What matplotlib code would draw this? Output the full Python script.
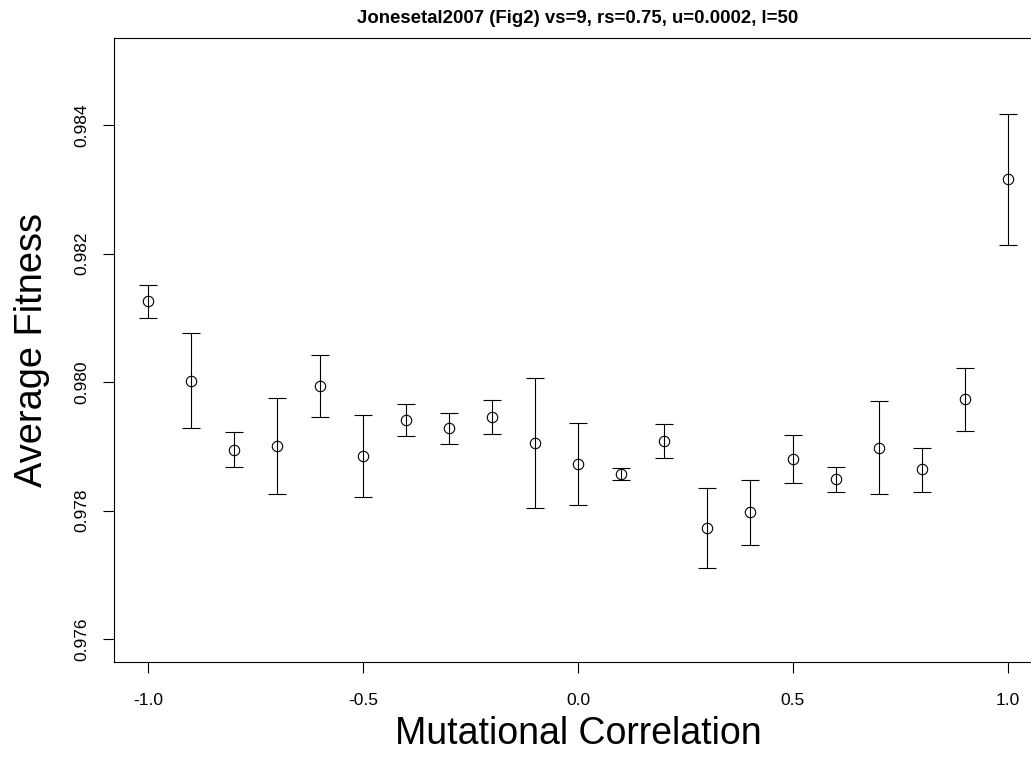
import matplotlib.pyplot as plt
import numpy as np

plt.rcParams['font.family'] = ['Liberation Sans', 'DejaVu Sans']

# mutational correlation (x) and mean fitness with error bar ends
corr = [-1.0, -0.9, -0.8, -0.7, -0.6, -0.5, -0.4, -0.3, -0.2, -0.1, 0.0,
        0.1, 0.2, 0.3, 0.4, 0.5, 0.6, 0.7, 0.8, 0.9, 1.0]
fitness = [0.98126, 0.98002, 0.97895, 0.97900, 0.97994, 0.97885, 0.97941,
           0.97928, 0.97946, 0.97905, 0.97872, 0.97857, 0.97908, 0.97773,
           0.97798, 0.97880, 0.97849, 0.97898, 0.97864, 0.97973, 0.98316]
upper = [0.98151, 0.98076, 0.97922, 0.97975, 0.98043, 0.97948, 0.97966,
         0.97952, 0.97972, 0.98006, 0.97936, 0.97866, 0.97934, 0.97835,
         0.97848, 0.97918, 0.97868, 0.97971, 0.97898, 0.98022, 0.98418]
lower = [0.98100, 0.97929, 0.97868, 0.97826, 0.97946, 0.97821, 0.97916,
         0.97903, 0.97919, 0.97804, 0.97808, 0.97848, 0.97882, 0.97710,
         0.97747, 0.97843, 0.97829, 0.97826, 0.97829, 0.97924, 0.98213]

x = np.array(corr)
y = np.array(fitness)
yerr = [y - np.array(lower), np.array(upper) - y]

fig = plt.figure(figsize=(10.31, 7.58), dpi=100)
ax = fig.add_axes([0.1106, 0.1266, 0.900, 0.8233])

ax.errorbar(x, y, yerr=yerr, fmt='none', ecolor='black', elinewidth=0.8,
            capsize=6.5, capthick=0.8)
ax.plot(x, y, 'o', mfc='none', mec='black', ms=7.5, mew=0.8)

ax.set_xlim(-1.08, 1.08)
ax.set_ylim(0.976 - 0.00036, 0.985 + 0.00036)
ax.set_xticks([-1.0, -0.5, 0.0, 0.5, 1.0])
ax.set_xticklabels(['-1.0', '-0.5', '0.0', '0.5', '1.0'])
ax.set_yticks([0.976, 0.978, 0.980, 0.982, 0.984])
ax.set_yticklabels(['0.976', '0.978', '0.980', '0.982', '0.984'],
                   rotation=90, va='center')
ax.tick_params(length=8, width=0.8, labelsize=12.5)
ax.tick_params(axis='x', pad=14)
ax.tick_params(axis='y', pad=10)

for s in ax.spines.values():
    s.set_linewidth(0.8)

ax.set_xlabel('Mutational Correlation', fontsize=27, labelpad=6)
ax.set_ylabel('Average Fitness', fontsize=27.4, labelpad=17)
ax.set_title('Jonesetal2007 (Fig2) vs=9, rs=0.75, u=0.0002, l=50',
             fontsize=13.4, fontweight='bold', pad=11)

fig.savefig('out.png', dpi=100)
